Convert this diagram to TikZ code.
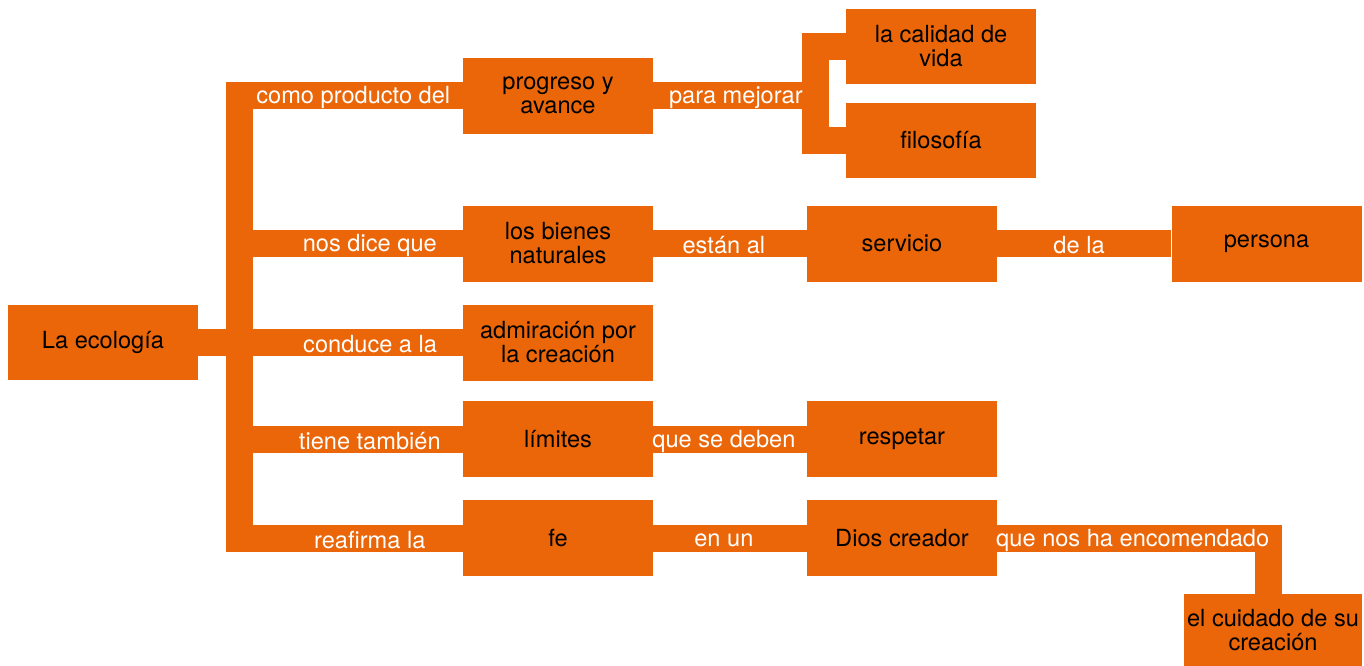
\documentclass[tikz,border=0pt]{standalone}
\usepackage{fontspec}
\setmainfont{TeX Gyre Heros}
\definecolor{ecoorange}{RGB}{234,102,8}
\tikzset{
  box/.style={fill=ecoorange, minimum width=95pt, minimum height=38pt, inner sep=0pt,
    align=center, font=\fontsize{11.8}{12}\selectfont},
  band/.style={draw=ecoorange, line width=13.5pt},
  lbl/.style={text=white, inner sep=0pt, yshift=-1pt, font=\fontsize{11.8}{12}\selectfont}
}

\begin{document}
\begin{tikzpicture}[x=0.5pt,y=-0.5pt]
    \useasboundingbox (0,0) rectangle (1364,665);
    % concepts
    \node[box, minimum height=37.5pt] (eco) at (103,342.5) {La ecología};
    \node[box] (prog) at (558,95.5) {progreso y\\avance};
    \node[box] (bienes) at (558,243.5) {los bienes\\naturales};
    \node[box] (admir) at (558,342.5) {admiración por\\la creación};
    \node[box] (limites) at (558,439) {límites};
    \node[box] (fe) at (558,538) {fe};
    \node[box, minimum height=37.5pt] (calidad) at (941,46.5) {la calidad de\\vida};
    \node[box, minimum height=37.5pt] (filosofia) at (941,140.5) {filosofía};
    \node[box] (servicio) at (902,243.5) {servicio};
    \node[box] (persona) at (1266.5,243.5) {persona};
    \node[box] (respetar) at (902,439) {respetar};
    \node[box] (dios) at (902,538) {Dios creador};
    \node[box, minimum width=89pt, minimum height=36pt] (cuidado) at (1273,630) {el cuidado de su\\creación};
    \coordinate (trunk) at (239.5,342.5);
    \coordinate (fork) at (815,95.5);
    % trunk and branches
    \draw[band, line cap=rect] (trunk |- prog.west) -- (trunk |- fe.west);
    \draw[band] (trunk |- prog.west) -- (prog.west) node[lbl, pos=0.51] {como producto del};
    \draw[band] (trunk |- bienes.west) -- (bienes.west) node[lbl, pos=0.584] {nos dice que};
    \draw[band] (eco.east) -- (admir.west) node[lbl, pos=0.65] {conduce a la};
    \draw[band] (trunk |- limites.west) -- (limites.west) node[lbl, pos=0.584] {tiene también};
    \draw[band] (trunk |- fe.west) -- (fe.west) node[lbl, pos=0.584] {reafirma la};
    % right side
    \draw[band] (calidad.west) -| (fork) |- (filosofia.west);
    \draw[band] (prog.east) -- (fork) node[lbl, pos=0.51] {para mejorar};
    \draw[band] (bienes) -- (servicio) node[lbl, pos=0.46] {están al};
    \draw[band] (servicio) -- (persona) node[lbl, pos=0.47] {de la};
    \draw[band] (limites) -- (respetar) node[lbl, pos=0.46] {que se deben};
    \draw[band] (fe) -- (dios) node[lbl, pos=0.46] {en un};
    \draw[band] (dios.east) -| ([xshift=-2.5pt]cuidado.north) node[lbl, pos=0.25] {que nos ha encomendado};
\end{tikzpicture}
\end{document}
